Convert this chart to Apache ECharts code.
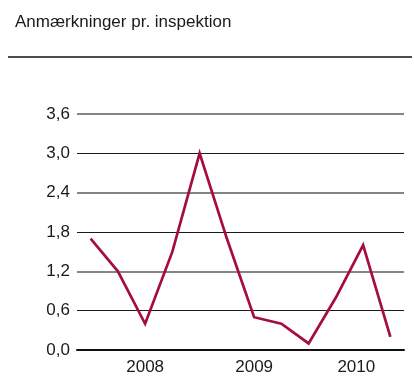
<!DOCTYPE html>
<html>
<head>
<meta charset="utf-8">
<script src="https://cdn.jsdelivr.net/npm/echarts@6/dist/echarts.min.js"></script>
<style>
  html, body { margin: 0; padding: 0; background: #fff; }
  #chart { width: 414px; height: 383px; }
</style>
</head>
<body>
<div id="chart"></div>
<script>
// Remarks per inspection, one value per period
const values = [1.7, 1.2, 0.4, 1.5, 3.0, 1.7, 0.5, 0.4, 0.1, 0.8, 1.6, 0.2];
// Year labels and where they sit on the period scale
const yearLabels = ['2008', '2009', '2010'];
const yearLabelAt = [2, 6, 9.75];
// Value axis ticks
const yTicks = [0, 0.6, 1.2, 1.8, 2.4, 3.0, 3.6];

const FONT = '"Liberation Sans", Arial, sans-serif';
const seriesData = values.map((v, i) => [i, v]);
const yMin = yTicks[0];
const yMax = yTicks[yTicks.length - 1];
const yStep = yTicks[1] - yTicks[0];

const chart = echarts.init(document.getElementById('chart'), null, { renderer: 'canvas' });
chart.setOption({
  animation: false,
  backgroundColor: '#ffffff',
  title: {
    text: 'Anmærkninger pr. inspektion',
    left: 15,
    top: 14,
    padding: 0,
    textStyle: { fontFamily: FONT, fontSize: 17, fontWeight: 'normal', color: '#1a1a1a' }
  },
  graphic: [{
    type: 'line',
    shape: { x1: 8, y1: 57, x2: 412, y2: 57 },
    style: { stroke: '#111', lineWidth: 1.5 }
  }],
  grid: { left: 77, right: 10, top: 114, bottom: 33, containLabel: false },
  xAxis: {
    type: 'value',
    min: -0.5,
    max: values.length - 0.5,
    axisLine: { show: true, lineStyle: { color: '#111', width: 2 } },
    axisTick: { show: false },
    splitLine: { show: false },
    axisLabel: {
      customValues: yearLabelAt,
      formatter: (v) => {
        const k = yearLabelAt.indexOf(v);
        return k >= 0 ? yearLabels[k] : '';
      },
      margin: 9,
      fontFamily: FONT,
      fontSize: 17,
      color: '#1a1a1a'
    },
    z: 5
  },
  yAxis: [{
    // labels plus the thin dark gridlines (every other line)
    type: 'value',
    min: yMin,
    max: yMax,
    interval: yStep,
    axisLine: { show: false },
    axisTick: { show: false },
    splitLine: { show: true, lineStyle: { color: ['transparent', '#1a1a1a'], width: 1 } },
    axisLabel: {
      formatter: (v) => v.toFixed(1).replace('.', ','),
      margin: 7,
      fontFamily: FONT,
      fontSize: 17,
      color: '#1a1a1a'
    }
  }, {
    // the softer, wider grey gridlines in between
    type: 'value',
    position: 'left',
    min: yMin,
    max: yMax,
    interval: yStep,
    axisLine: { show: false },
    axisTick: { show: false },
    axisLabel: { show: false },
    splitLine: { show: true, lineStyle: { color: ['#858585', 'transparent'], width: 2 } }
  }],
  series: [{
    type: 'line',
    data: seriesData,
    symbol: 'none',
    lineStyle: { color: '#a50d3c', width: 2.7, join: 'miter' },
    z: 10
  }]
});
</script>
</body>
</html>
